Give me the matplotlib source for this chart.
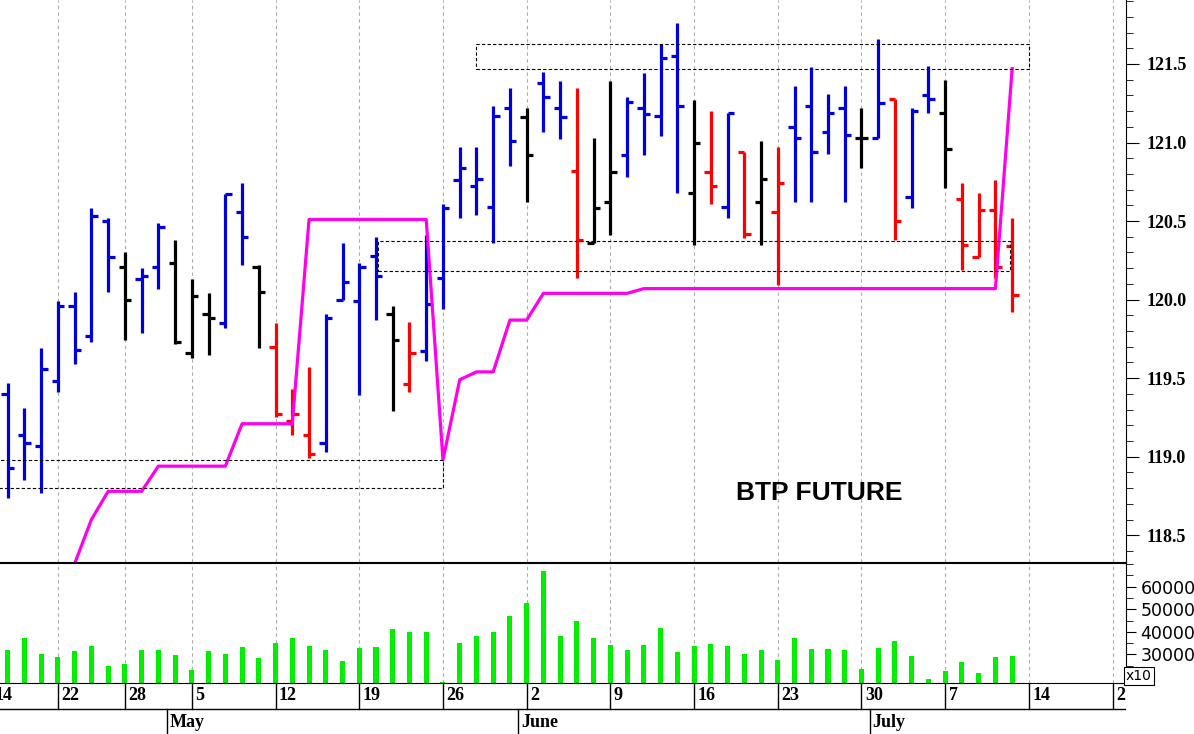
import matplotlib.pyplot as plt
from matplotlib.ticker import MultipleLocator

# OHLC per trading day (index 0 = Apr 16)
highs = [119.47,119.31,119.69,119.99,120.05,120.58,120.52,120.30,120.20,120.49,
         120.38,120.13,120.04,120.67,120.74,120.22,119.85,119.43,119.57,119.91,
         120.36,120.23,120.40,119.96,119.86,120.41,120.61,120.97,120.97,121.23,
         121.35,121.22,121.45,121.39,121.35,121.03,121.39,121.29,121.44,121.63,
         121.76,121.27,121.20,121.19,120.94,121.01,120.97,121.36,121.48,121.31,
         121.36,121.22,121.66,121.28,121.22,121.49,121.40,120.74,120.68,120.76,120.52]
lows = [118.74,118.85,118.77,119.41,119.59,119.73,120.05,119.74,119.79,120.07,
        119.72,119.63,119.65,119.82,120.22,119.69,119.25,119.14,118.99,119.03,
        120.00,119.39,119.87,119.29,119.41,119.61,119.94,120.52,120.54,120.36,
        120.85,120.62,121.07,121.02,120.14,120.36,120.41,120.78,120.92,121.04,
        120.68,120.35,120.61,120.52,120.39,120.35,120.09,120.62,120.62,120.93,
        120.62,120.84,121.03,120.38,120.58,121.19,120.71,120.19,120.27,120.14,119.92]
opens = [119.40,119.14,119.07,119.48,119.96,119.77,120.50,120.21,120.13,120.21,
         120.23,119.66,119.91,119.85,120.56,120.21,119.70,119.23,119.14,119.09,
         120.00,119.99,120.28,119.91,119.46,119.67,120.14,120.76,120.72,120.59,
         121.22,121.16,121.38,121.22,120.82,120.36,120.62,120.92,121.22,121.17,
         121.55,120.68,120.81,120.59,120.94,120.62,120.56,121.10,121.23,121.07,
         121.22,121.03,121.03,121.28,120.65,121.30,121.19,120.64,120.27,120.57,120.34]
closes = [118.93,119.09,119.56,119.96,119.68,120.53,120.27,120.00,120.15,120.46,
          119.73,120.02,119.88,120.67,120.40,120.05,119.27,119.27,119.02,119.88,
          120.11,120.21,120.15,119.74,119.66,119.97,120.58,120.84,120.77,121.17,
          121.01,120.92,121.29,121.16,120.38,120.58,120.81,121.26,121.18,121.54,
          121.23,121.00,120.72,121.19,120.42,120.77,120.74,121.03,120.94,121.19,
          121.05,121.03,121.25,120.50,121.20,121.28,120.96,120.35,120.57,120.21,120.03]
bar_colors = ("bbbbbbb" + "k" + "bb" + "kkk" + "bb" + "k" + "rrr" + "bbbb" + "k" + "r"
              + "bbbbbb" + "k" + "bb" + "r" + "kk" + "bbbb" + "k" + "r" + "b" + "r" + "k"
              + "r" + "bbbb" + "k" + "b" + "r" + "bb" + "k" + "rrrr")
volumes = [32070,37480,30100,28970,31370,33930,24700,25850,32070,32070,
           29670,23300,31370,30100,33220,28520,35040,37480,33930,32070,
           27100,32780,33480,41300,40000,40000,18030,35040,38150,40000,
           47100,52800,66800,38150,45000,37480,34110,31820,34110,41520,
           31100,33700,34800,33700,30400,31820,27550,37200,32500,32500,
           31820,23700,32960,36100,29400,18970,22550,26800,21960,28670,29400]
# trailing stop line (magenta), starting at day index 4
stop_start = 4
stop_line = [118.32,118.60,118.78,118.78,118.78,118.94,118.94,118.94,118.94,118.94,
             119.21,119.21,119.21,119.21,120.51,120.51,120.51,120.51,120.51,120.51,
             120.51,120.51,118.98,119.49,119.54,119.54,119.87,119.87,120.04,120.04,
             120.04,120.04,120.04,120.04,120.07,120.07,120.07,120.07,120.07,120.07,
             120.07,120.07,120.07,120.07,120.07,120.07,120.07,120.07,120.07,120.07,
             120.07,120.07,120.07,120.07,120.07,120.07,121.47]
# dashed boxes: (x0, x1, low, high)
boxes = [(-1.0, 26.0, 118.80, 118.98), (22.1, 59.9, 120.18, 120.37), (28.0, 61.0, 121.47, 121.63)]
week_idx = [-1, 3, 7, 11, 16, 21, 26, 31, 36, 41, 46, 51, 56, 61, 66]
week_lab = ["14", "22", "28", "5", "12", "19", "26", "2", "9", "16", "23", "30", "7", "14", "21"]
month_idx = [10, 31, 52]
month_lab = ["May", "June", "July"]

cmap = {"b": "#0000dd", "k": "black", "r": "#ff0000"}
xmin, xmax = -0.46, 66.8

fig = plt.figure(figsize=(11.94, 7.34), dpi=100)
ax = fig.add_axes([0, 1 - 562 / 734, 1126 / 1194, 562 / 734])
axv = fig.add_axes([0, 51 / 734, 1126 / 1194, 120 / 734])
axd = fig.add_axes([0, 0, 1126 / 1194, 51 / 734])

for i in range(len(highs)):
    c = cmap[bar_colors[i]]
    ax.plot([i, i], [lows[i], highs[i]], color=c, lw=2.3, solid_capstyle="butt")
    ax.plot([i - 0.38, i], [opens[i], opens[i]], color=c, lw=2.3, solid_capstyle="butt")
    ax.plot([i, i + 0.38], [closes[i], closes[i]], color=c, lw=2.3, solid_capstyle="butt")

ax.plot(range(stop_start, stop_start + len(stop_line)), stop_line, color="#ff00ee", lw=2.3)

for x0, x1, lo, hi in boxes:
    ax.plot([x0, x1, x1, x0, x0], [lo, lo, hi, hi, lo], color="black", lw=0.8, ls=(0, (3, 2)))

ax.text(43.5, 118.77, "BTP FUTURE", fontsize=19, fontweight="bold", family="Liberation Sans",
        va="center")
ax.set_xlim(xmin, xmax)
ax.set_ylim(118.33, 121.907)
ax.yaxis.tick_right()
ax.yaxis.set_major_locator(MultipleLocator(0.5))
ax.yaxis.set_minor_locator(MultipleLocator(0.1))
ax.tick_params(axis="y", which="major", length=9, labelsize=13, pad=6)
ax.tick_params(axis="y", which="minor", length=5)
for t in ax.get_yticklabels():
    t.set_family("Liberation Serif")
    t.set_fontweight("bold")
ax.set_xticks([])
ax.spines["left"].set_visible(False)
ax.spines["top"].set_visible(False)

axv.bar(range(len(volumes)), volumes, width=0.3, color="#00ee00")
axv.set_xlim(xmin, xmax)
axv.set_ylim(17400, 70400)
axv.yaxis.tick_right()
axv.yaxis.set_major_locator(MultipleLocator(10000))
axv.yaxis.set_minor_locator(MultipleLocator(5000))
axv.tick_params(axis="y", which="major", length=7, labelsize=12.5)
axv.tick_params(axis="y", which="minor", length=5)
axv.set_yticks([30000, 40000, 50000, 60000])
axv.set_xticks([])
axv.spines["left"].set_visible(False)
axv.text(1.0, 0.0, "x10", transform=axv.transAxes, fontsize=10, va="bottom", ha="left",
         bbox=dict(boxstyle="square,pad=0.15", fc="white", ec="black", lw=0.8))

for a in (ax, axv):
    for w in week_idx:
        a.axvline(w, color="#aaaaaa", lw=0.8, ls=(0, (3, 3)), zorder=0)

axd.set_xlim(xmin, xmax)
axd.set_ylim(0, 2)
axd.axis("off")
axd.axhline(1.0, color="black", lw=1)
for w, lab in zip(week_idx, week_lab):
    axd.plot([w, w], [1, 2], color="black", lw=1)
    axd.text(w + 0.2, 1.5, lab, fontsize=13, fontweight="bold", family="Liberation Serif",
             va="center", ha="left", clip_on=True)
for m, lab in zip(month_idx, month_lab):
    axd.plot([m - 0.5, m - 0.5], [0, 1], color="black", lw=1)
    axd.text(m - 0.35, 0.45, lab, fontsize=13, fontweight="bold", family="Liberation Serif",
             va="center", ha="left")

fig.savefig("out.png", dpi=100)
